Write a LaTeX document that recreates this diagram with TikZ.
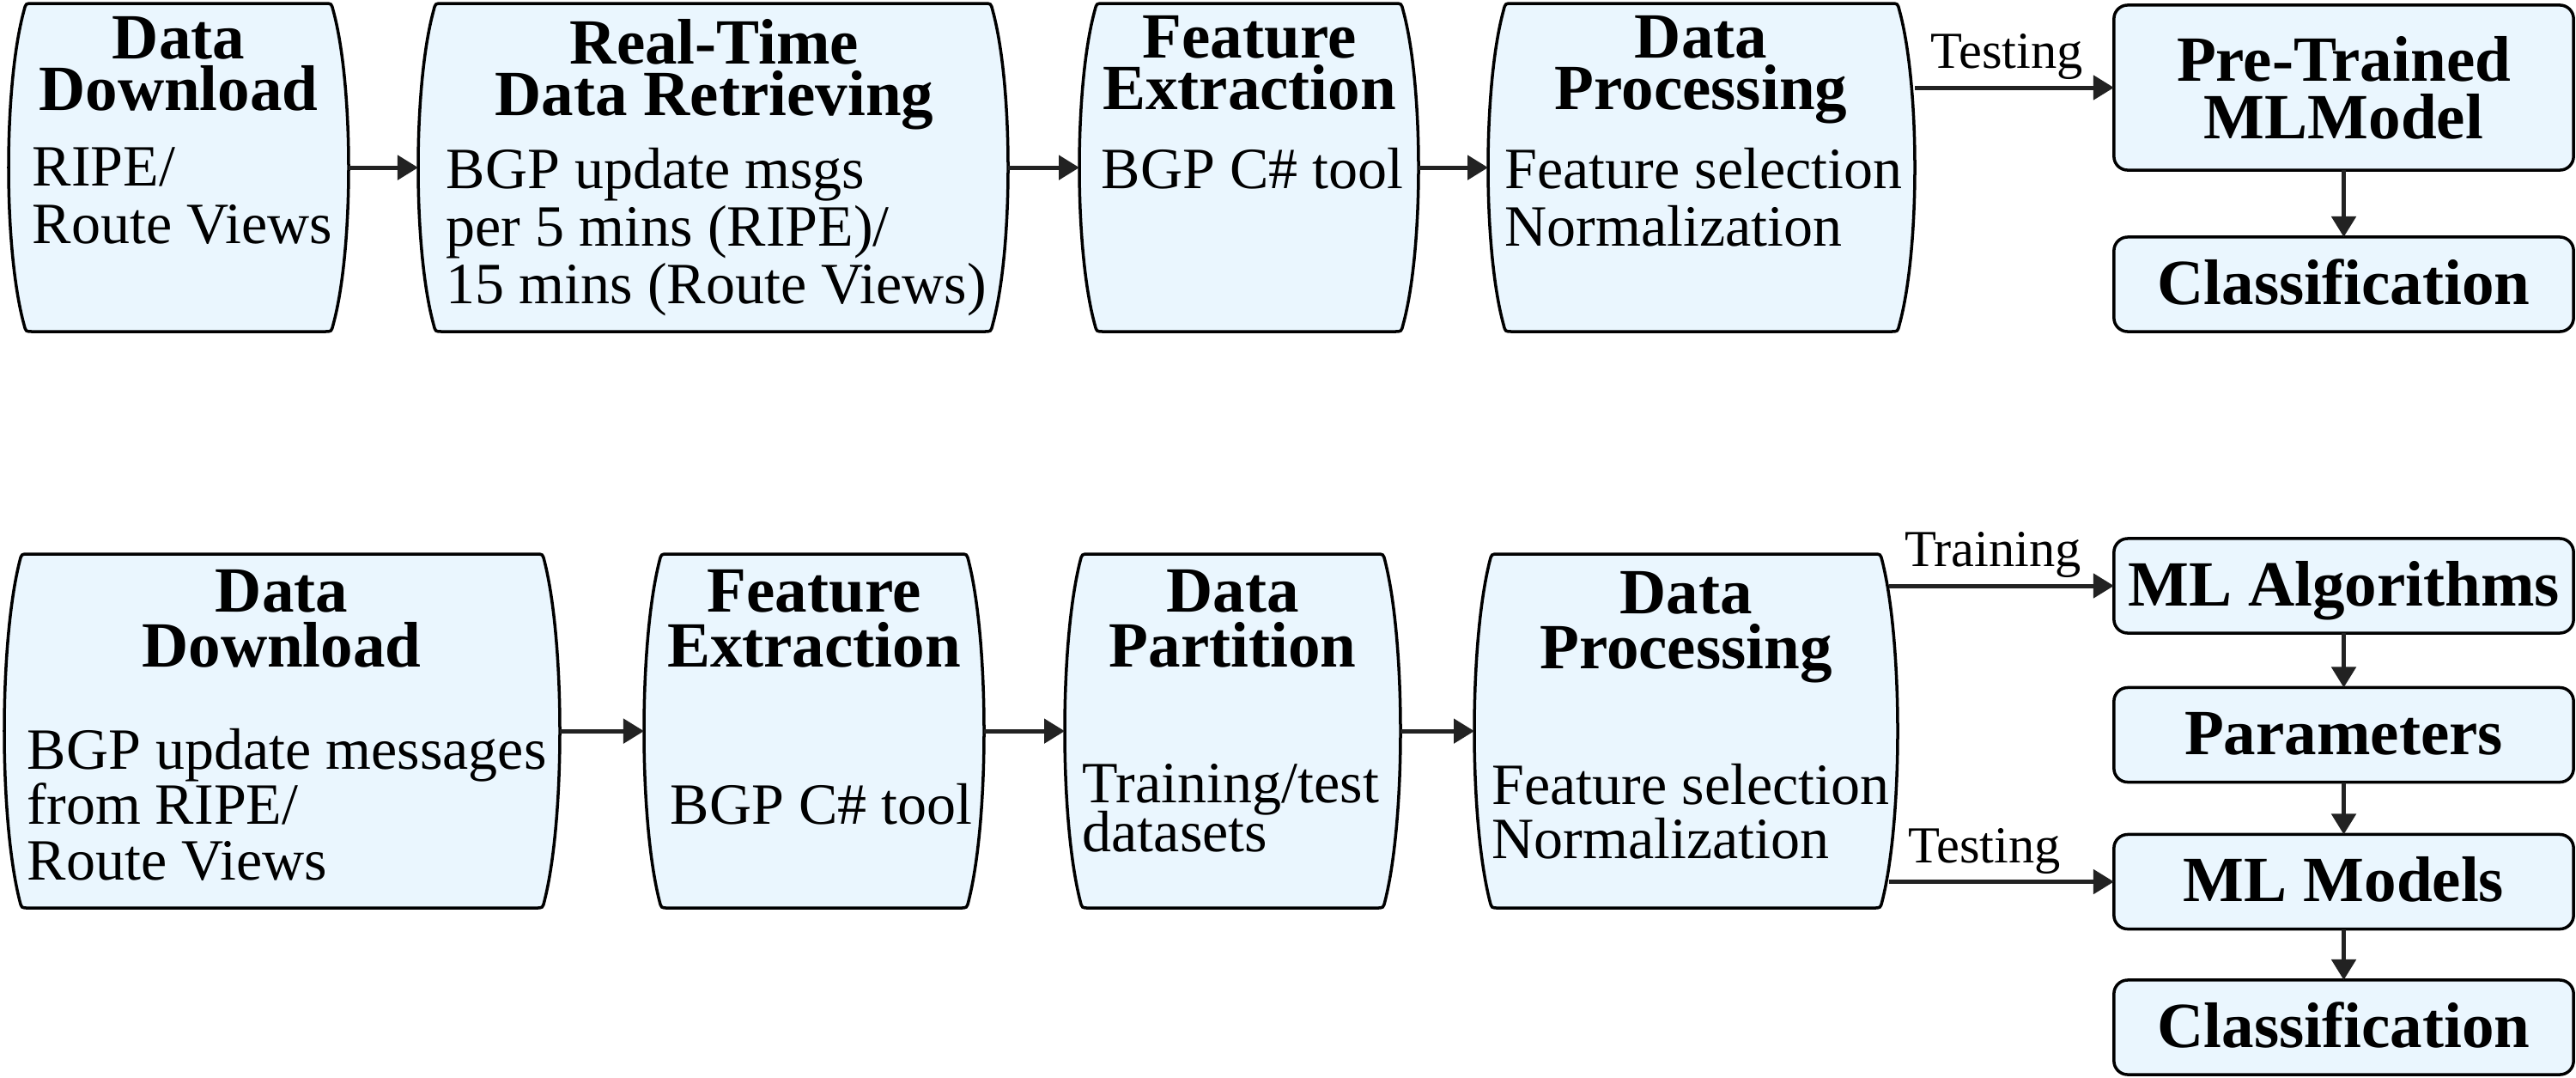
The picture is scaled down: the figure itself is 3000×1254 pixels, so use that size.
\documentclass[tikz,border=0pt]{standalone}
\usepackage{fontspec}
\setmainfont{Liberation Serif}
\usetikzlibrary{arrows.meta}
\definecolor{boxfill}{RGB}{234,246,254}
\definecolor{arrowcol}{RGB}{34,34,34}
\newcommand\TitleF[1]{\bfseries\fontsize{21.34pt}{#1}\selectfont\lineskiplimit=-100pt\relax}
\newcommand\BodyF[1]{\fontsize{19.35pt}{#1}\selectfont\lineskiplimit=-100pt\relax}
\newcommand\LabelF{\fontsize{17.2pt}{20pt}\selectfont}
% name, L, R, T, B  (pixel units)
\newcommand\curvybox[5]{%
  \node[anchor=north west, minimum width={(#3-#2)*0.284528pt}, minimum height={(#5-#4)*0.284528pt}, inner sep=0pt, outer sep=0pt] (#1) at (#2,#4) {};
  \draw[boxline] ({#2+28},#4) -- ({#3-28},#4)
    .. controls ({#3-20},#4) .. ({#3-18},{#4+8})
    .. controls ({#3+6},{#4+0.25*(#5-#4)}) and ({#3+6},{#5-0.25*(#5-#4)}) .. ({#3-18},{#5-8})
    .. controls ({#3-20},#5) .. ({#3-28},#5)
    -- ({#2+28},#5)
    .. controls ({#2+20},#5) .. ({#2+18},{#5-8})
    .. controls ({#2-6},{#5-0.25*(#5-#4)}) and ({#2-6},{#4+0.25*(#5-#4)}) .. ({#2+18},{#4+8})
    .. controls ({#2+20},#4) .. cycle;
}
\begin{document}
\begin{tikzpicture}[x=0.01cm, y=-0.01cm,
  boxline/.style={draw=black, line width=0.035cm, fill=boxfill},
  rbox/.style={draw=black, line width=0.035cm, fill=boxfill, rounded corners=0.16cm,
    minimum width=5.35cm, inner sep=0pt, outer sep=0pt, align=center},
  rone/.style={rbox, minimum height=1.1cm, text height=0.51cm, text depth=0.05cm, font={\TitleF{18pt}}},
  ttl/.style={anchor=north, inner sep=0pt, align=center},
  bdy/.style={anchor=north west, inner sep=0pt, align=left},
  arr/.style={-{Triangle[length=0.24cm,width=0.28cm]}, line width=0.05cm, draw=arrowcol},
  lbl/.style={anchor=base, font=\LabelF, inner sep=0pt, yshift=0.22cm}]
\fill[white] (0,0) rectangle (3000,1254);
\useasboundingbox (0,0) rectangle (3000,1254);

% ---- top row ----
\curvybox{t1}{10}{406}{4}{386}
\curvybox{t2}{487}{1174}{4}{386}
\curvybox{t3}{1257}{1652}{4}{386}
\curvybox{t4}{1733}{2230}{4}{386}

\node[ttl, font={\TitleF{17.07pt}}] (t1t) at (208,19) {Data\\Download};
\node[ttl, font={\TitleF{17.07pt}}] (t2t) at (832,22) {Real-Time\\Data Retrieving};
\node[ttl, font={\TitleF{17.07pt}}] (t3t) at (1455,18) {Feature\\Extraction};
\node[ttl, font={\TitleF{17.07pt}}] (t4t) at (1981,18) {Data\\Processing};

\node[bdy, font={\BodyF{19.06pt}}] (t1b) at (37,171) {RIPE/\\Route Views};
\node[bdy, font={\BodyF{19.06pt}}] (t2b) at (519,172) {BGP update msgs\\per 5 mins (RIPE)/\\15 mins (Route Views)};
\node[bdy, font={\BodyF{19.06pt}}] (t3b) at (1282,172) {BGP C\# tool};
\node[bdy, font={\BodyF{19.06pt}}] (t4b) at (1752,172) {Feature selection\\Normalization};

\node[rbox, minimum height=1.92cm, font={\TitleF{19.06pt}}] (t5) at (2729.5,102) {Pre-Trained\\MLModel};
\node[rone] (t6) at (2729.5,331) {Classification};

\draw[arr] (t1) -- (t2);
\draw[arr] (t2) -- (t3);
\draw[arr] (t3) -- (t4);
\draw[arr] (t4.east |- t5.west) -- (t5.west) node[lbl, midway, xshift=-0.09cm] {Testing};
\draw[arr] (t5) -- (t6);

% ---- bottom row ----
\curvybox{b1}{5}{652}{645}{1057}
\curvybox{b2}{750}{1146}{645}{1057}
\curvybox{b3}{1240}{1631}{645}{1057}
\curvybox{b4}{1717}{2210}{645}{1057}

\node[ttl, font={\TitleF{18.21pt}}] (b1t) at (328,663) {Data\\Download};
\node[ttl, font={\TitleF{18.21pt}}] (b2t) at (948,663) {Feature\\Extraction};
\node[ttl, font={\TitleF{18.21pt}}] (b3t) at (1435.5,663) {Data\\Partition};
\node[ttl, font={\TitleF{18.21pt}}] (b4t) at (1963.5,665) {Data\\Processing};

\node[bdy, font={\BodyF{18.21pt}}] (b1b) at (31,848) {BGP update messages\\from RIPE/\\Route Views};
\node[bdy, font={\BodyF{18.21pt}}] (b2b) at (780,912) {BGP C\# tool};
\node[bdy, font={\BodyF{16.22pt}}] (b3b) at (1260,889) {Training/test\\datasets};
\node[bdy, font={\BodyF{17.92pt}}] (b4b) at (1737,889) {Feature selection\\Normalization};

\node[rone] (r1) at (2729.5,682) {ML Algorithms};
\node[rone] (r2) at (2729.5,855.5) {Parameters};
\node[rone] (r3) at (2729.5,1026.5) {ML Models};
\node[rone] (r4) at (2729.5,1196) {Classification};

\draw[arr] (b1) -- (b2);
\draw[arr] (b2) -- (b3);
\draw[arr] (b3) -- (b4);
\draw[arr, shorten <=-0.1cm] (b4.east |- r1.west) -- (r1.west) node[lbl, midway, xshift=-0.15cm] {Training};
\draw[arr, shorten <=-0.1cm] (b4.east |- r3.west) -- (r3.west) node[lbl, midway, xshift=-0.25cm] {Testing};
\draw[arr] (r1) -- (r2);
\draw[arr] (r2) -- (r3);
\draw[arr] (r3) -- (r4);
\end{tikzpicture}
\end{document}
